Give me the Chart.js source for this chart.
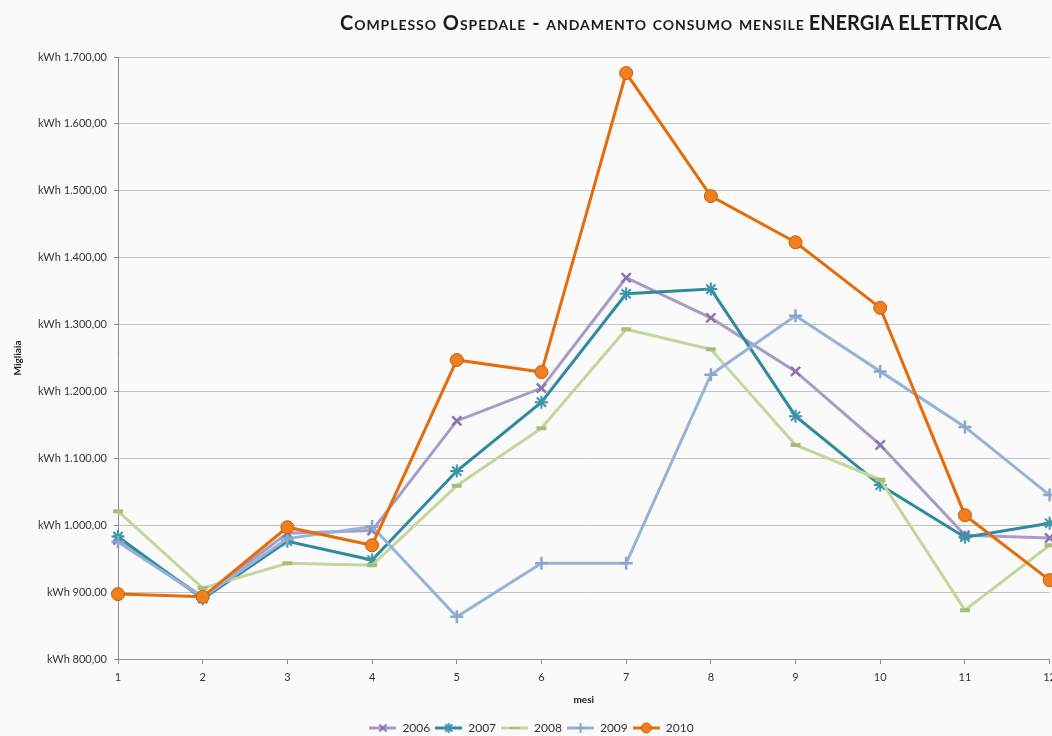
<!DOCTYPE html>
<html><head><meta charset="utf-8">
<script src="https://cdn.jsdelivr.net/npm/chart.js@4.4.0/dist/chart.umd.min.js"></script>
<style>
html,body{margin:0;padding:0;background:#fafafa;overflow:hidden}
#wrap{position:relative;width:1052px;height:736px;overflow:hidden}
#chart{position:absolute;left:0;top:0}
#title{position:absolute;left:340px;top:10px;font-family:Lato,"Open Sans",sans-serif;font-weight:bold;color:#1c1c1c;white-space:nowrap;z-index:2}
.sc{font-size:20px;font-variant:small-caps;letter-spacing:0.95px}
.big{font-size:20px}
</style></head>
<body>
<div id="wrap">
<canvas id="chart" width="1063" height="736"></canvas>
<div id="title"><span class="sc">Complesso Ospedale - andamento consumo mensile</span> <span class="big">ENERGIA ELETTRICA</span></div>
</div>
<script>
// valori mensili in migliaia di kWh
const mesi=["1","2","3","4","5","6","7","8","9","10","11","12"];
const anni=["2006","2007","2008","2009","2010"];
const v2006=[978,893,988,992,1156,1205,1370,1310,1230,1120,985,981];
const v2007=[983,890,976,948,1081,1184,1346,1353,1163,1060,982,1003];
const v2008=[1021,906,943,940,1059,1145,1293,1263,1120,1068,873,970];
const v2009=[975,892,980,998,863,943,943,1225,1313,1230,1147,1045];
const v2010=[897,893,997,970,1247,1229,1676,1492,1423,1325,1015,918];
const yMin=800, yMax=1700, yStep=100;

const colori=["#a99bc8","#2f8aa0","#c3d69b","#95b3d7","#e46c0a"];
const puntiColori=["#8a76ad","#3a94ab","#a9bd7a","#8aa6cc","#c85a0a"];
const riempimento=["#8a76ad","#3a94ab","#cfe0aa","#8aa6cc","#f07f1e"];
const stili=["crossRot","star","line","cross","circle"];
const raggi=[6.5,6.5,5,6.5,6.5];
const bordiPunti=[2.5,2,4,2.5,1];

const fmt=v=>{const s=v.toFixed(2).split(".");return "kWh "+s[0].replace(/\B(?=(\d{3})+(?!\d))/g,".")+","+s[1]};

function icona(i){const c=document.createElement("canvas");c.width=27;c.height=14;const x=c.getContext("2d");
x.strokeStyle=colori[i];x.lineWidth=3;x.beginPath();x.moveTo(0,7);x.lineTo(27,7);x.stroke();
x.strokeStyle=puntiColori[i];x.fillStyle=riempimento[i];x.lineWidth=i===4?1:2;
Chart.helpers.drawPoint(x,{pointStyle:stili[i],radius:5,borderWidth:i===4?1:2,rotation:0},13.5,7);return c}

const serie=[v2006,v2007,v2008,v2009,v2010];
const datasets=serie.map((d,i)=>({label:anni[i],data:d,borderColor:colori[i],borderWidth:3,tension:0,
pointStyle:stili[i],pointRadius:raggi[i],pointBorderWidth:bordiPunti[i],pointBorderColor:puntiColori[i],
pointBackgroundColor:riempimento[i],order:5-i,icon:icona(i)}));

new Chart(document.getElementById("chart"),{type:"line",data:{labels:mesi,datasets},
options:{responsive:false,animation:false,devicePixelRatio:1,
layout:{padding:{top:57,right:0,left:0,bottom:0}},
font:{family:"Lato"},
plugins:{tooltip:{enabled:false},
legend:{position:"bottom",maxHeight:19,
labels:{usePointStyle:true,pointStyleWidth:27,padding:5,color:"#333",font:{family:"Lato",size:12},
sort:(a,b)=>a.datasetIndex-b.datasetIndex,
generateLabels:ch=>ch.data.datasets.map((d,i)=>({text:d.label,pointStyle:d.icon,datasetIndex:i,fontColor:"#333",lineWidth:0,strokeStyle:"transparent",fillStyle:"transparent"}))}}},
scales:{
x:{type:"category",offset:false,
grid:{display:true,drawOnChartArea:false,tickLength:5,color:"#8c8c8c"},
border:{color:"#8c8c8c"},
ticks:{padding:7,color:"#333",font:{family:"Lato",size:11},maxRotation:0,autoSkip:false},
title:{display:true,text:"mesi",color:"#222",font:{family:"Lato",size:10,weight:"bold"},padding:{top:0,bottom:11}},
afterFit:s=>{s.height=58}},
y:{min:yMin,max:yMax,
grid:{color:"#c2c2c2",tickLength:4,tickColor:"#8c8c8c"},
border:{color:"#8c8c8c"},
ticks:{stepSize:yStep,padding:7,color:"#333",font:{family:"Lato",size:11},callback:v=>fmt(v)},
title:{display:true,text:"Migliaia",color:"#222",font:{family:"Lato",size:10,weight:"bold"},padding:{top:12,bottom:0}},
afterFit:s=>{s.width=118}}}}});
</script>
</body></html>
